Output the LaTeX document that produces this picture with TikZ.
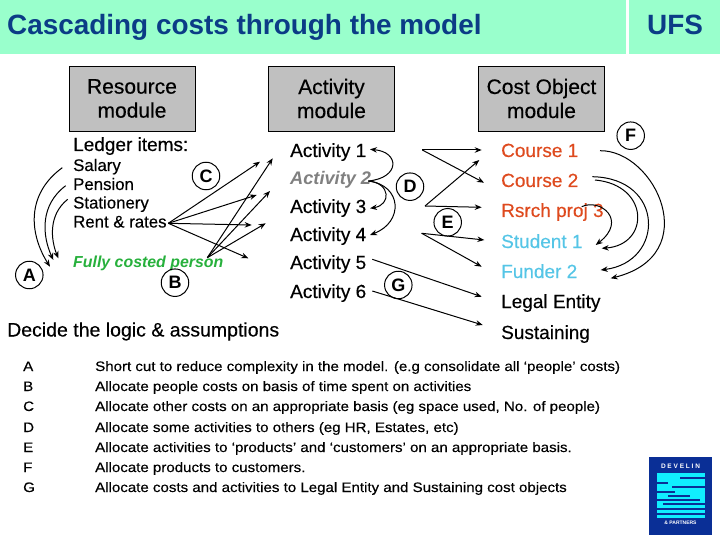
\documentclass[tikz,border=0pt]{standalone}
\usepackage{fontspec}
\usetikzlibrary{arrows.meta}
\setmainfont{Liberation Sans}
\newfontfamily\heavy{Liberation Sans}[RawFeature={embolden=0.35}]
\newfontfamily\heavywide{Liberation Sans}[FakeStretch=1.1, RawFeature={embolden=0.25}]
\definecolor{bandgreen}{HTML}{99FFCC}
\definecolor{titleblue}{HTML}{0B3C86}
\definecolor{modgrey}{HTML}{C0C0C0}
\definecolor{coursered}{HTML}{DE4A1E}
\definecolor{studentblue}{HTML}{55C5E6}
\definecolor{costgreen}{HTML}{27B03C}
\definecolor{logoblue}{HTML}{0A2F96}
\definecolor{logocyan}{HTML}{10EEFF}
\tikzset{
  title/.style = {anchor=base west, inner sep=0, text=titleblue, font=\fontsize{27.9}{27.9}\selectfont\bfseries},
  module/.style = {draw, fill=modgrey, minimum width=126, minimum height=65, align=center, inner sep=0,
    font=\heavy\fontsize{21}{24}\selectfont},
  item/.style = {anchor=base west, inner sep=0, font=\heavy\fontsize{19}{19}\selectfont},
  ledger/.style = {anchor=base west, inner sep=0, font=\heavy\fontsize{16.8}{16.8}\selectfont},
  note/.style = {anchor=base west, inner sep=0, font=\heavywide\fontsize{13.7}{13.7}\selectfont},
  tag/.style = {circle, draw, line width=1pt, minimum size=27.5, inner sep=0, font=\fontsize{18}{18}\selectfont\bfseries},
  link/.style = {-{Stealth[length=7pt, width=5.5pt]}, line width=1pt}
}
\begin{document}
\begin{tikzpicture}[x=1pt, y=-1pt]
    \useasboundingbox (0,0) rectangle (720,540);
    \fill [bandgreen] (0,0) rectangle (625.5,54);
    \fill [bandgreen] (628.5,0) rectangle (720,54);
    \node [title] (head) at (7,35) {Cascading costs through the model};
    \node [title] (ufs) at (647,35) {UFS};

    \node [module] (resource) at (132,98.5) {Resource\\module};
    \node [module] (activity) at (331.5,98.5) {Activity\\module};
    \node [module] (costobj) at (541.5,98.5) {Cost Object\\module};

    \node [item] (items) at (73,151) {Ledger items:};
    \node [ledger] (salary) at (73,171) {Salary};
    \node [ledger] (pension) at (73,190) {Pension};
    \node [ledger] (stationery) at (73,208.5) {Stationery};
    \node [ledger] (rent) at (73,227.5) {Rent \& rates};
    \node [ledger, text=costgreen, font=\fontsize{15.9}{15.9}\selectfont\bfseries\itshape] (person) at (73,267) {Fully costed person};

    \node [item] (act1) at (290,157) {Activity 1};
    \node [item, text=gray, font=\fontsize{18.2}{18.2}\selectfont\bfseries\itshape] (act2) at (290,185) {Activity 2};
    \node [item] (act3) at (290,213) {Activity 3};
    \node [item] (act4) at (290,241) {Activity 4};
    \node [item] (act5) at (290,269) {Activity 5};
    \node [item] (act6) at (290,298) {Activity 6};

    \node [item, text=coursered] (course1) at (501,157) {Course 1};
    \node [item, text=coursered] (course2) at (501,187) {Course 2};
    \node [item, text=coursered] (rsrch) at (501,217) {Rsrch proj 3};
    \node [item, text=studentblue] (student) at (501,248) {Student 1};
    \node [item, text=studentblue] (funder) at (501,278) {Funder 2};
    \node [item] (legal) at (501,308) {Legal Entity};
    \node [item] (sustain) at (501,339) {Sustaining};

    \node [tag] (tagA) at (29.3,275) {A};
    \node [tag] (tagB) at (175,282.7) {B};
    \node [tag] (tagC) at (206,176) {C};
    \node [tag] (tagD) at (410,186.7) {D};
    \node [tag] (tagE) at (447.7,222.3) {E};
    \node [tag] (tagF) at (630.7,135.7) {F};
    \node [tag] (tagG) at (398.3,285) {G};

    \node [item, font=\heavy\fontsize{19.5}{19.5}\selectfont] (decide) at (7,336.5) {Decide the logic \& assumptions};

    \foreach \ltr/\txt/\yy in {
        A/{Short cut to reduce complexity in the model. (e.g consolidate all ‘people’ costs)}/371,
        B/{Allocate people costs on basis of time spent on activities}/391,
        C/{Allocate other costs on an appropriate basis (eg space used, No. of people)}/411,
        D/{Allocate some activities to others (eg HR, Estates, etc)}/432,
        E/{Allocate activities to ‘products’ and ‘customers’ on an appropriate basis.}/452,
        F/{Allocate products to customers.}/472,
        G/{Allocate costs and activities to Legal Entity and Sustaining cost objects}/492} {
      \node [note] (key\ltr) at (23,\yy) {\ltr};
      \node [note] (say\ltr) at (95,\yy) {\txt};
    }

    % free ends on the left
    \coordinate (a1) at (62.3,167.7);  \coordinate (a1e) at (50,266.7);
    \coordinate (a2) at (65.7,185.7);  \coordinate (a2e) at (53.3,260);
    \coordinate (a3) at (67.7,199.3);  \coordinate (a3e) at (58.3,258.3);
    \draw [link] (a1) .. controls (25,195) and (30,235) .. (a1e);
    \draw [link] (a2) .. controls (40,205) and (42,235) .. (a2e);
    \draw [link] (a3) .. controls (48,215) and (51,240) .. (a3e);

    \coordinate (rentout) at (168.3,223.3);
    \foreach \name/\pos in {c1/{260,161.7}, c2/{256.7,195}, c3/{251.7,225}, c4/{248.3,258.3}} {
      \coordinate (\name) at (\pos);
      \draw [link] (rentout) -- (\name);
    }
    \coordinate (personout) at (207.3,257.7);
    \foreach \name/\pos in {b1/{272.7,158.3}, b2/{270,191}, b3/{265.7,223.3}} {
      \coordinate (\name) at (\pos);
      \draw [link] (personout) -- (\name);
    }

    % activities to activities
    \coordinate (d0) at (368.3,181);
    \coordinate (d1) at (370,149.3);
    \coordinate (d2) at (370,208.3);
    \coordinate (d3) at (370,235);
    \draw [link] (d0) .. controls (400,178) and (400,152) .. (d1);
    \draw [link] (d0) .. controls (391,183) and (391,205) .. (d2);
    \draw [link] (d0) .. controls (402,185) and (404,222) .. (d3);

    % activities to cost objects
    \coordinate (e1) at (422.3,150);
    \coordinate (e2) at (425,206);
    \coordinate (e3) at (421.7,233.3);
    \foreach \from/\name/\pos in {e1/f1/{481.7,150}, e1/f2/{484,182.7}, e2/f3/{479.3,160}, e2/f4/{481.7,207.3},
        e3/f5/{484.3,240}, e3/f6/{481.7,266.7}} {
      \coordinate (\name) at (\pos);
      \draw [link] (\from) -- (\name);
    }
    \coordinate (g1) at (372.3,259.3);  \coordinate (g1e) at (481.7,296.7);
    \coordinate (g2) at (372.3,291);    \coordinate (g2e) at (482.7,325);
    \draw [link] (g1) -- (g1e);
    \draw [link] (g2) -- (g2e);

    % products to customers
    \coordinate (h1) at (600,150.7);    \coordinate (h1e) at (610.7,278.3);
    \coordinate (h2) at (592.3,176.7);  \coordinate (h2e) at (600.7,270);
    \coordinate (h3) at (595,180);      \coordinate (h3e) at (601.7,248.3);
    \coordinate (h4) at (581.7,206.7);  \coordinate (h4e) at (595.7,245);
    \draw [link] (h1) .. controls (655,150) and (705,255) .. (h1e);
    \draw [link] (h2) .. controls (665,178) and (665,262) .. (h2e);
    \draw [link] (h3) .. controls (650,185) and (650,245) .. (h3e);
    \draw [link] (h4) .. controls (600,198) and (628,220) .. (h4e);

    % logo
    \fill [logoblue] (649,457) rectangle (712,535);
    \fill [logocyan] (657,473) rectangle (705,518);
    \foreach \yy/\xa/\xb in {477/680/705, 481.5/657/668, 486/672/705, 490.5/657/675, 495/668/690, 499/657/700, 503/663/705, 507.5/657/705, 512.5/657/705} {
      \fill [logoblue] (\xa,\yy) rectangle (\xb,\yy+2);
    }
    \node [inner sep=0, text=white, font=\fontsize{6.5}{6.5}\selectfont\bfseries] (develin) at (680.5,466) {D E V E L I N};
    \node [inner sep=0, text=white, font=\fontsize{5}{5}\selectfont\bfseries] (partners) at (680.5,523) {\& PARTNERS};
\end{tikzpicture}
\end{document}
